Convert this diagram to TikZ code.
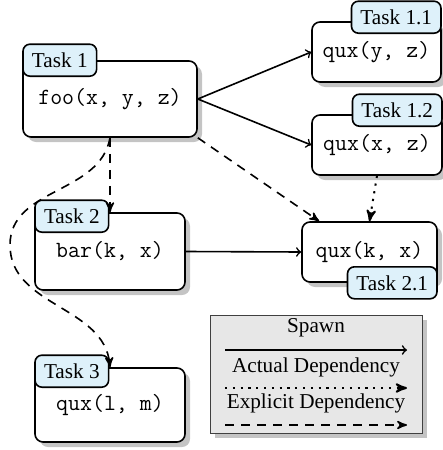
\documentclass[tikz,border=0pt]{standalone}
\usepackage{fontspec}
\setmainfont{Liberation Serif}
\usepackage{tikz}
\usetikzlibrary{arrows,shadows,positioning}

\definecolor{tabblue}{RGB}{222,241,250}
\definecolor{shadowgray}{RGB}{196,196,196}
\definecolor{legendgray}{RGB}{231,231,231}

\newcommand{\code}[1]{{\fontsize{11.6}{13}\selectfont\ttfamily #1}}

\begin{document}
\begin{tikzpicture}[
        x=0.5pt, y=0.5pt,
        font=\fontsize{10.6}{12.7}\selectfont,
        task/.style={
            draw, thick, rectangle, rounded corners=4pt,
            fill=white, inner sep=0pt,
            drop shadow={shadow xshift=2.5pt, shadow yshift=-2.5pt,
                         fill=shadowgray, opacity=1}
        },
        tab/.style={
            draw, thick, rectangle, rounded corners=3.5pt,
            fill=tabblue, inner xsep=4.5pt, inner ysep=0pt,
            minimum height=16pt
        },
        spawn/.style={->, thick},
        actual/.style={-stealth', line width=1pt, dash pattern=on 1.1pt off 2.8pt},
        explicit/.style={-stealth', thick, dash pattern=on 4.5pt off 3.5pt}
      ]

  \useasboundingbox (0,0) rectangle (443,-450);

  % tasks
  \node (task1) [task, minimum width=87pt, minimum height=38pt] at (110,-99) {\code{foo(x, y, z)}};
  \node (task11) [task, minimum width=64.5pt, minimum height=30pt] at (376.5,-52) {\code{qux(y, z)}};
  \node (task12) [task, minimum width=65pt, minimum height=30pt] at (377,-145) {\code{qux(x, z)}};
  \node (task2) [task, minimum width=75pt, minimum height=38.5pt] at (110,-251.5) {\code{bar(k, x)}};
  \node (task21) [task, minimum width=67.5pt, minimum height=30pt] at (369.5,-252) {\code{qux(k, x)}};
  \node (task3) [task, minimum width=75pt, minimum height=37pt] at (110,-405) {\code{qux(l, m)}};

  % labels
  \node (tab1) [tab, anchor=west] at (task1.north west) {Task 1};
  \node (tab11) [tab, anchor=east] at ([yshift=2pt]task11.north east) {Task 1.1};
  \node (tab12) [tab, anchor=east] at ([yshift=2pt]task12.north east) {Task 1.2};
  \node (tab2) [tab, anchor=west] at ([yshift=-2pt]task2.north west) {Task 2};
  \node (tab21) [tab, anchor=east] at (task21.south east) {Task 2.1};
  \node (tab3) [tab, anchor=west] at ([yshift=-2pt]task3.north west) {Task 3};

  % spawns
  \draw[spawn] (task1.east) -- (task11.west);
  \draw[spawn] (task1.east) -- (task12.west);
  \draw[spawn] (task2.east) -- (task21.west);

  % dependencies
  \draw[explicit] (task1.south) -- (task2.north);
  \coordinate (loop) at (10,-245);
  \draw[explicit] (task1.south) to[out=-100,in=90] (loop) to[out=-90,in=95] (task3.north);
  \draw[explicit] (task1.south east) -- ([xshift=9pt]task21.north west);
  \draw[actual] (task12.south) -- (task21.north);

  % legend
  \node (legend) [draw=black!75, fill=legendgray, minimum width=106pt, minimum height=59pt,
                  drop shadow={shadow xshift=2.5pt, shadow yshift=-2.5pt, fill=shadowgray, opacity=1}]
        at (316,-374) {};
  \node (spawnlbl) at (316,-328) {Spawn};
  \coordinate (sp1) at (225,-350);
  \coordinate (sp2) at (407,-350);
  \draw[spawn] (sp1) -- (sp2);
  \node (actuallbl) at (316,-367) {Actual Dependency};
  \coordinate (ac1) at (225,-388);
  \coordinate (ac2) at (407,-388);
  \draw[actual] (ac1) -- (ac2);
  \node (explicitlbl) at (316,-403) {Explicit Dependency};
  \coordinate (ex1) at (225,-425);
  \coordinate (ex2) at (407,-425);
  \draw[explicit] (ex1) -- (ex2);

\end{tikzpicture}
\end{document}
